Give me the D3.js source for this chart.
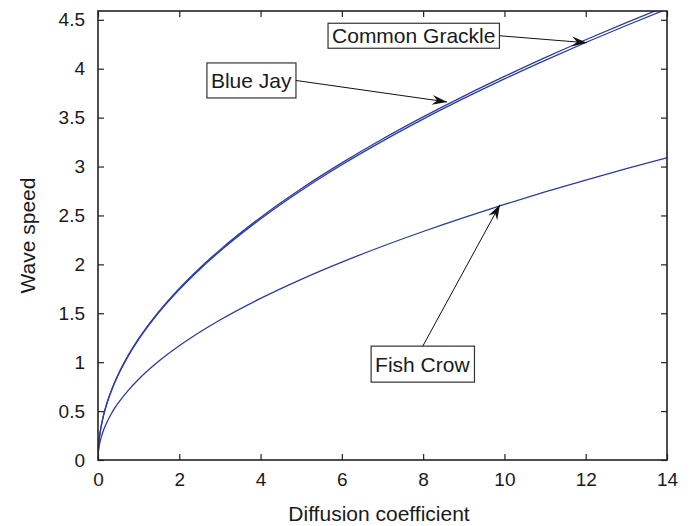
<!DOCTYPE html>
<html>
<head>
<meta charset="utf-8">
<script src="https://cdn.jsdelivr.net/npm/d3@7"></script>
<style>
  html, body { margin: 0; padding: 0; background: #fff; }
  svg { display: block; font-family: "Liberation Sans", Arial, Helvetica, sans-serif; }
</style>
</head>
<body>
<svg id="chart" width="691" height="526"></svg>
<script>
// ---- data ----
const diffusion = [0.005, 0.02, 0.05, 0.1, 0.2, 0.35, 0.5, 0.75, 1, 1.5, 2, 2.5, 3, 4, 5, 6, 7, 8, 9, 10, 11, 12, 13, 14];
const commonGrackle = [0.088, 0.175, 0.277, 0.392, 0.555, 0.734, 0.877, 1.074, 1.240, 1.519, 1.754, 1.961, 2.148, 2.480, 2.773, 3.037, 3.281, 3.507, 3.720, 3.921, 4.113, 4.296, 4.471, 4.640];
const blueJay = [0.087, 0.174, 0.275, 0.390, 0.551, 0.729, 0.871, 1.067, 1.232, 1.509, 1.742, 1.948, 2.134, 2.464, 2.755, 3.018, 3.260, 3.485, 3.696, 3.896, 4.086, 4.268, 4.442, 4.610];
const fishCrow = [0.058, 0.117, 0.185, 0.261, 0.369, 0.489, 0.584, 0.715, 0.826, 1.012, 1.168, 1.306, 1.431, 1.652, 1.847, 2.023, 2.185, 2.336, 2.478, 2.612, 2.740, 2.861, 2.978, 3.091];
const xTicks = [0, 2, 4, 6, 8, 10, 12, 14];
const yTicks = [0, 0.5, 1, 1.5, 2, 2.5, 3, 3.5, 4, 4.5];
const xLabel = "Diffusion coefficient";
const yLabel = "Wave speed";
// annotation labels: text, label anchor (data units: left x, centre y), arrow tip (data units)
const annLabels = ["Common Grackle", "Blue Jay", "Fish Crow"];
const annLabelX = [5.66, 2.68, 6.72];
const annLabelY = [4.337, 3.88, 0.98];
const annTipX = [12.03, 8.59, 9.89];
const annTipY = [4.265, 3.66, 2.61];
const annFrom = ["right", "right", "top"];
const annBoxH = [25, 35, 36];

// ---- layout ----
const svg = d3.select("#chart");
const m = { left: 98, right: 667, top: 11, bottom: 460 };
const x = d3.scaleLinear().domain([0, 14]).range([m.left, m.right]);
const y = d3.scaleLinear().domain([0, 4.59]).range([m.bottom, m.top]);
const lineColor = "#2b3aa6";
const axisColor = "#222";
const tickFont = 19;
const labelFont = 21;

// clip
svg.append("defs").append("clipPath").attr("id", "plotclip")
  .append("rect").attr("x", m.left).attr("y", m.top)
  .attr("width", m.right - m.left).attr("height", m.bottom - m.top);

// curves
const line = d3.line().x(d => x(d[0])).y(d => y(d[1])).curve(d3.curveMonotoneX);
const series = [commonGrackle, blueJay, fishCrow];
const g = svg.append("g").attr("clip-path", "url(#plotclip)");
series.forEach(s => {
  g.append("path")
    .datum(diffusion.map((d, i) => [d, s[i]]))
    .attr("d", line)
    .attr("fill", "none")
    .attr("stroke", lineColor)
    .attr("stroke-width", 1.3);
});

// axes (box with inward ticks on all sides)
const tickLen = 6;
const axB = svg.append("g").attr("transform", `translate(0,${m.bottom})`)
  .call(d3.axisBottom(x).tickValues(xTicks).tickSize(-tickLen).tickPadding(13).tickFormat(d3.format("d")));
const axT = svg.append("g").attr("transform", `translate(0,${m.top})`)
  .call(d3.axisTop(x).tickValues(xTicks).tickSize(-tickLen).tickFormat(""));
const axL = svg.append("g").attr("transform", `translate(${m.left},0)`)
  .call(d3.axisLeft(y).tickValues(yTicks).tickSize(-tickLen).tickPadding(13).tickFormat(d => d3.format("")(d)));
const axR = svg.append("g").attr("transform", `translate(${m.right},0)`)
  .call(d3.axisRight(y).tickValues(yTicks).tickSize(-tickLen).tickFormat(""));
[axB, axT, axL, axR].forEach(a => {
  a.select(".domain").remove();
  a.selectAll(".tick line").attr("stroke", axisColor).attr("stroke-width", 1.2);
  a.selectAll(".tick text").attr("fill", "#1a1a1a").style("font-size", tickFont + "px")
    .style("font-family", '"Liberation Sans", Arial, sans-serif');
});
svg.append("rect").attr("x", m.left).attr("y", m.top)
  .attr("width", m.right - m.left).attr("height", m.bottom - m.top)
  .attr("fill", "none").attr("stroke", axisColor).attr("stroke-width", 1.6);

// axis labels
svg.append("text").attr("x", 379).attr("y", 521)
  .attr("text-anchor", "middle").style("font-size", labelFont + "px").attr("fill", "#1a1a1a").text(xLabel);
svg.append("text").attr("transform", `translate(35,${(m.top + m.bottom) / 2}) rotate(-90)`)
  .attr("text-anchor", "middle").style("font-size", labelFont + "px").attr("fill", "#1a1a1a").text(yLabel);

// annotations
function arrowHead(sel, x1, y1, x2, y2) {
  const ang = Math.atan2(y2 - y1, x2 - x1);
  const L = 15, W = 5, N = 10;
  const ca = Math.cos(ang), sa = Math.sin(ang);
  const pt = (a, b) => [x2 - a * ca + b * sa, y2 - a * sa - b * ca];
  const p = [[x2, y2], pt(L, W), pt(N, 0), pt(L, -W)];
  sel.append("path").attr("d", "M" + p.map(q => q.join(",")).join("L") + "Z").attr("fill", "#111");
}
annLabels.forEach((txt, i) => {
  const ag = svg.append("g");
  const t = ag.append("text").attr("x", 0).attr("y", 0)
    .style("font-size", labelFont + "px").attr("fill", "#1a1a1a").text(txt);
  const bb = t.node().getBBox();
  const padX = 4;
  const bx = x(annLabelX[i]), cy = y(annLabelY[i]);
  const bw = bb.width + 2 * padX, bh = annBoxH[i];
  t.attr("x", bx + padX).attr("y", cy + labelFont * 0.36);
  ag.insert("rect", "text").attr("x", bx).attr("y", cy - bh / 2).attr("width", bw).attr("height", bh)
    .attr("fill", "#fff").attr("stroke", "#333").attr("stroke-width", 1.2);
  let sx, sy;
  if (annFrom[i] === "right") { sx = bx + bw; sy = cy; }
  else { sx = bx + bw / 2; sy = cy - bh / 2; }
  const tx = x(annTipX[i]), ty = y(annTipY[i]);
  ag.append("line").attr("x1", sx).attr("y1", sy).attr("x2", tx).attr("y2", ty)
    .attr("stroke", "#111").attr("stroke-width", 1);
  arrowHead(ag, sx, sy, tx, ty);
});
</script>
</body>
</html>
